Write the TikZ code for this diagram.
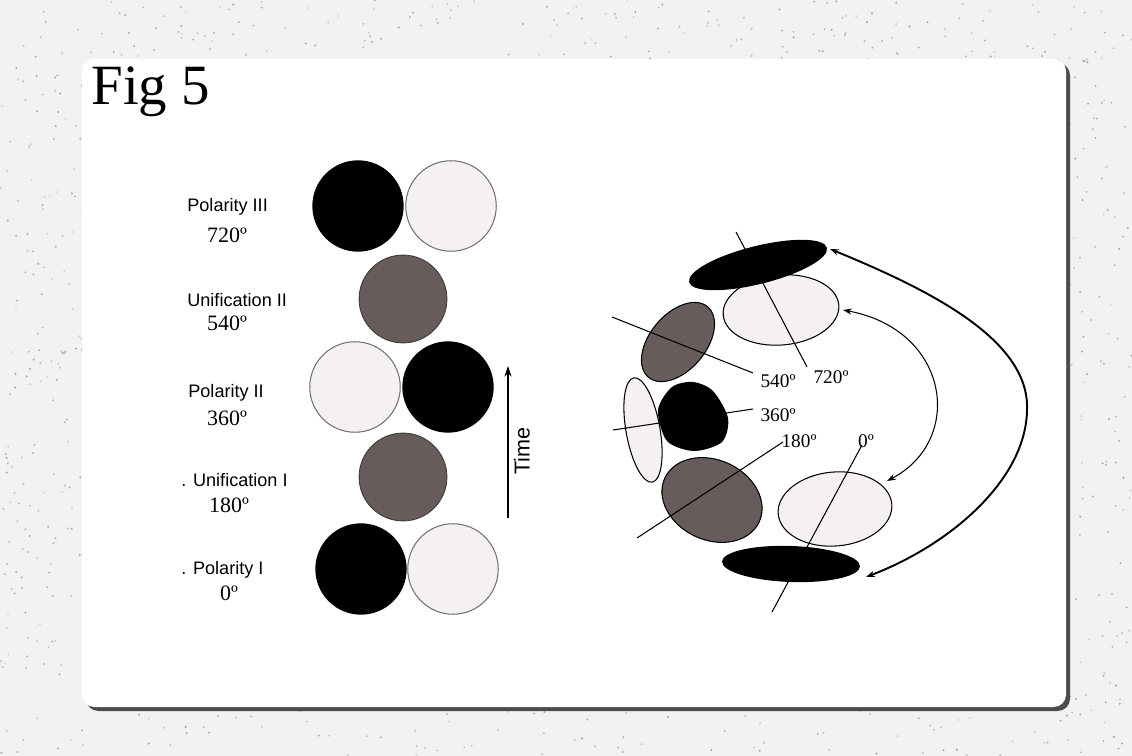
\documentclass[tikz,border=0pt]{standalone}
\usepackage{fontspec}
\setmainfont{Liberation Serif}
\setsansfont{Liberation Sans}
\usetikzlibrary{arrows.meta}

\definecolor{umber}{HTML}{675B5B}
\definecolor{palefill}{HTML}{F5F1F1}
\definecolor{paper}{HTML}{F2F2F2}

\tikzset{
  blackball/.style={circle,fill=black,minimum size=52pt,inner sep=0pt},
  paleball/.style={circle,fill=palefill,draw=black!55,line width=0.6pt,minimum size=51.5pt,inner sep=0pt},
  umberball/.style={circle,fill=umber,draw=umber!60!black,line width=0.5pt,minimum size=50pt,inner sep=0pt},
  stage/.style={font=\sffamily\fontsize{10.3}{12}\selectfont,anchor=west,inner sep=0pt},
  degs/.style={font=\fontsize{12.5}{14}\selectfont,inner sep=0pt},
  tag/.style={font=\fontsize{11}{13}\selectfont,inner sep=0pt},
  tip/.style={{Stealth[length=5pt,width=3.5pt]}-{Stealth[length=5pt,width=3.5pt]}}
}

\begin{document}
\begin{tikzpicture}[x=0.02cm,y=-0.02cm]

\useasboundingbox (0,0) rectangle (1132,756);
\fill[paper] (0,0) rectangle (1132,756);

% speckles
\pgfmathsetseed{11}
\foreach \i in {1,...,2200}{
  \pgfmathsetmacro\px{rnd*1132}
  \pgfmathsetmacro\py{rnd*756}
  \pgfmathsetmacro\pg{12+rnd*22}
  \fill[black!\pg!paper] (\px,\py) circle (1.1);
}

% card with its shadow
\fill[black!70,rounded corners=7pt] (86,63) rectangle (1070,711);
\fill[white,rounded corners=7pt] (82,59) rectangle (1066,707);

\node[anchor=base west,inner sep=0pt,font=\fontsize{32.4}{36}\selectfont] (fig) at (91,105) {Fig 5};

% stages in a row
\node[blackball] (p3a) at (358,206) {};
\node[paleball]  (p3b) at (451,206) {};
\node[umberball] (u2)  at (403,299) {};
\node[paleball]  (p2a) at (355,387) {};
\node[blackball] (p2b) at (448,387) {};
\node[umberball] (u1)  at (403,477) {};
\node[blackball] (p1a) at (361,569) {};
\node[paleball]  (p1b) at (453,569) {};

\node[stage] (s5) at (187,207) {Polarity III};
\node[degs]  (d5) at (227,235) {720º};
\node[stage] (s4) at (187,300) {Unification II};
\node[degs]  (d4) at (227,323) {540º};
\node[stage] (s3) at (188,393) {Polarity II};
\node[degs]  (d3) at (227,418) {360º};
\node[stage] (s2) at (181,480) {. Unification I};
\node[degs]  (d2) at (229,505) {180º};
\node[stage] (s1) at (181,570) {. Polarity I};
\node[degs]  (d1) at (229,593) {0º};

\coordinate (t0) at (508,518);
\coordinate (t1) at (508,366);
\draw[line width=0.6pt,-{Stealth[length=6pt,width=4pt]}] (t0) -- (t1);
\node[rotate=90,inner sep=0pt,font=\sffamily\fontsize{12.3}{14}\selectfont] (time) at (522,451) {Time};

% stages round the loop
\draw[line width=0.6pt,fill=palefill,rotate around={10:(643,430)}] (643,430) ellipse (17 and 53);
\draw[line width=0.6pt,fill=umber,rotate around={50:(678,342)}] (678,342) ellipse (46 and 28);
\draw[line width=0.6pt,fill=palefill,rotate around={5:(781,310)}] (781,310) ellipse (58 and 35);
\fill[rotate around={14:(758,265)}] (758,265) ellipse (71 and 19);
\fill plot[smooth cycle] coordinates {(658,410) (672,387) (693,382) (713,391) (728,418) (722,442) (694,451) (667,441)};
\draw[line width=0.6pt,fill=umber,rotate around={-25:(712,500)}] (712,500) ellipse (52 and 40);
\draw[line width=0.6pt,fill=palefill,rotate around={5:(835,509)}] (835,509) ellipse (57 and 37);
\fill[rotate around={-2:(791,564)}] (791,564) ellipse (69 and 18);

\coordinate (a720) at (736,232);
\coordinate (b720) at (807,367);
\coordinate (a540) at (612,317);
\coordinate (b540) at (753,373);
\coordinate (a360) at (613,430);
\coordinate (b360) at (753,409);
\coordinate (a180) at (637,538);
\coordinate (b180) at (783,442);
\coordinate (a0) at (772,612);
\coordinate (b0) at (862,445);

\draw[line width=0.6pt] (a720) -- (b720);
\draw[line width=0.6pt] (a540) -- (b540);
\draw[line width=0.6pt] (a360) -- (b360);
\draw[line width=0.6pt] (a180) -- (b180);
\draw[line width=0.6pt] (a0) -- (b0);

\node[tag] (l720) at (831,377) {720º};
\node[tag] (l540) at (778,381) {540º};
\node[tag] (l360) at (778,415) {360º};
\node[tag] (l180) at (799,441) {180º};
\node[tag] (l0)   at (866,441) {0º};

\coordinate (in1) at (843,310);
\coordinate (in2) at (887,481);
\coordinate (out1) at (830,249);
\coordinate (out2) at (866,577);

\draw[tip,line width=0.6pt] (in1) .. controls (950,330) and (965,440) .. (in2);
\draw[tip,line width=1.1pt] (out1) .. controls (930,290) and (1030,340) .. (1027,410)
                                   .. controls (1026,480) and (950,545) .. (out2);

\end{tikzpicture}
\end{document}
